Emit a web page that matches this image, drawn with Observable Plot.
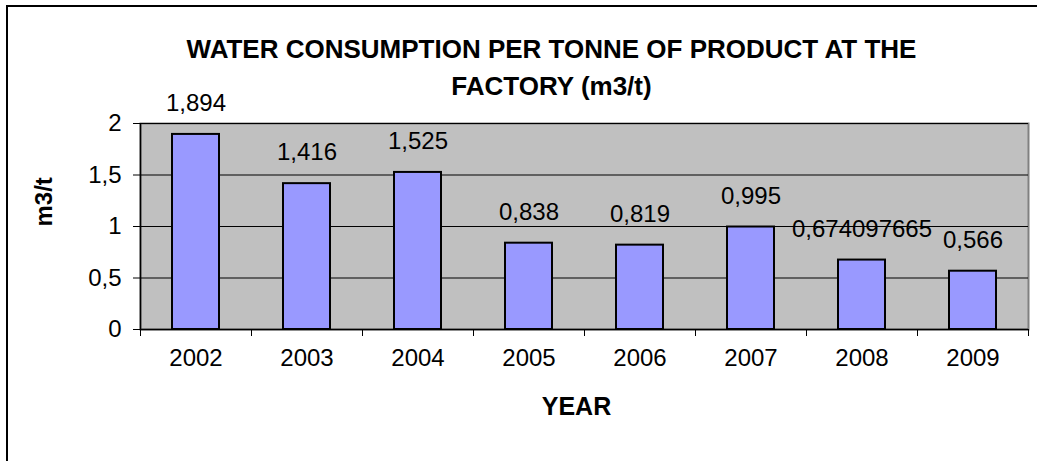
<!DOCTYPE html>
<html>
<head>
<meta charset="utf-8">
<script src="https://cdn.jsdelivr.net/npm/d3@7"></script>
<script src="https://cdn.jsdelivr.net/npm/@observablehq/plot@0.6"></script>
<style>
  html, body { margin: 0; padding: 0; background: #fff; overflow: hidden; }
  #chart { position: absolute; left: 0; top: 0; }
  #frame { position: absolute; left: 6px; top: 5px; width: 3000px; height: 3000px; border: 2px solid #000; pointer-events: none; }
</style>
</head>
<body>
<div id="chart"></div>
<div id="frame"></div>
<script>
const years = ["2002", "2003", "2004", "2005", "2006", "2007", "2008", "2009"];
const values = [1.894, 1.416, 1.525, 0.838, 0.819, 0.995, 0.674097665, 0.566];
const yTicks = [0, 0.5, 1, 1.5, 2];
const titleLines = ["WATER CONSUMPTION PER TONNE OF PRODUCT AT THE", "FACTORY (m3/t)"];
const xLabel = "YEAR";
const yLabel = "m3/t";

const comma = d => String(d).replace(".", ",");
const data = years.map((year, i) => ({year, value: values[i]}));
const font = "Arial, 'Liberation Sans', sans-serif";
const halfStep = 55.5;

const chart = Plot.plot({
  width: 1037,
  height: 461,
  marginLeft: 140,
  marginRight: 9,
  marginTop: 123,
  marginBottom: 132,
  style: {fontFamily: font, background: "transparent", overflow: "visible", color: "#000"},
  x: {domain: years, paddingInner: 0.58, paddingOuter: 0.29, axis: null},
  y: {domain: [0, 2], axis: null},
  marks: [
    Plot.frame({fill: "#C0C0C0", stroke: "#808080", strokeWidth: 2}),
    Plot.ruleY(yTicks.slice(1), {stroke: "#000", strokeWidth: 1}),
    Plot.barY(data, {x: "year", y: "value", fill: "#9999FF", stroke: "#000", strokeWidth: 2}),
    Plot.ruleY([0], {stroke: "#000", strokeWidth: 1.5}),
    Plot.ruleX([years[0]], {dx: -halfStep, stroke: "#000", strokeWidth: 1.5}),
    Plot.axisY({ticks: yTicks, tickSize: 7, tickPadding: 12, tickFormat: comma, fontSize: 24, label: null, stroke: "#000"}),
    Plot.axisX({ticks: years, tickSize: 7, tickFormat: () => "", dx: -halfStep, label: null, stroke: "#000"}),
    Plot.axisX({ticks: [years[years.length - 1]], tickSize: 7, tickFormat: () => "", dx: halfStep, label: null, stroke: "#000"}),
    Plot.text(years, {x: d => d, frameAnchor: "bottom", dy: 36, fontSize: 24, fill: "#000"}),
    Plot.text(data, {x: "year", y: "value", text: d => comma(d.value), dy: -31, fontSize: 24, fill: "#000"}),
    Plot.text([xLabel], {frameAnchor: "bottom", dx: -8, dy: 85, fontSize: 25, fontWeight: "bold", fill: "#000"}),
    Plot.text([yLabel], {frameAnchor: "left", dx: -96, rotate: -90, fontSize: 24, fontWeight: "bold", fill: "#000"}),
    Plot.text([titleLines[0]], {frameAnchor: "top", dx: -33, dy: -84, fontSize: 26, fontWeight: "bold", fill: "#000"}),
    Plot.text([titleLines[1]], {frameAnchor: "top", dx: -33, dy: -47, fontSize: 26, fontWeight: "bold", fill: "#000"})
  ]
});
document.getElementById("chart").appendChild(chart);
</script>
</body>
</html>
